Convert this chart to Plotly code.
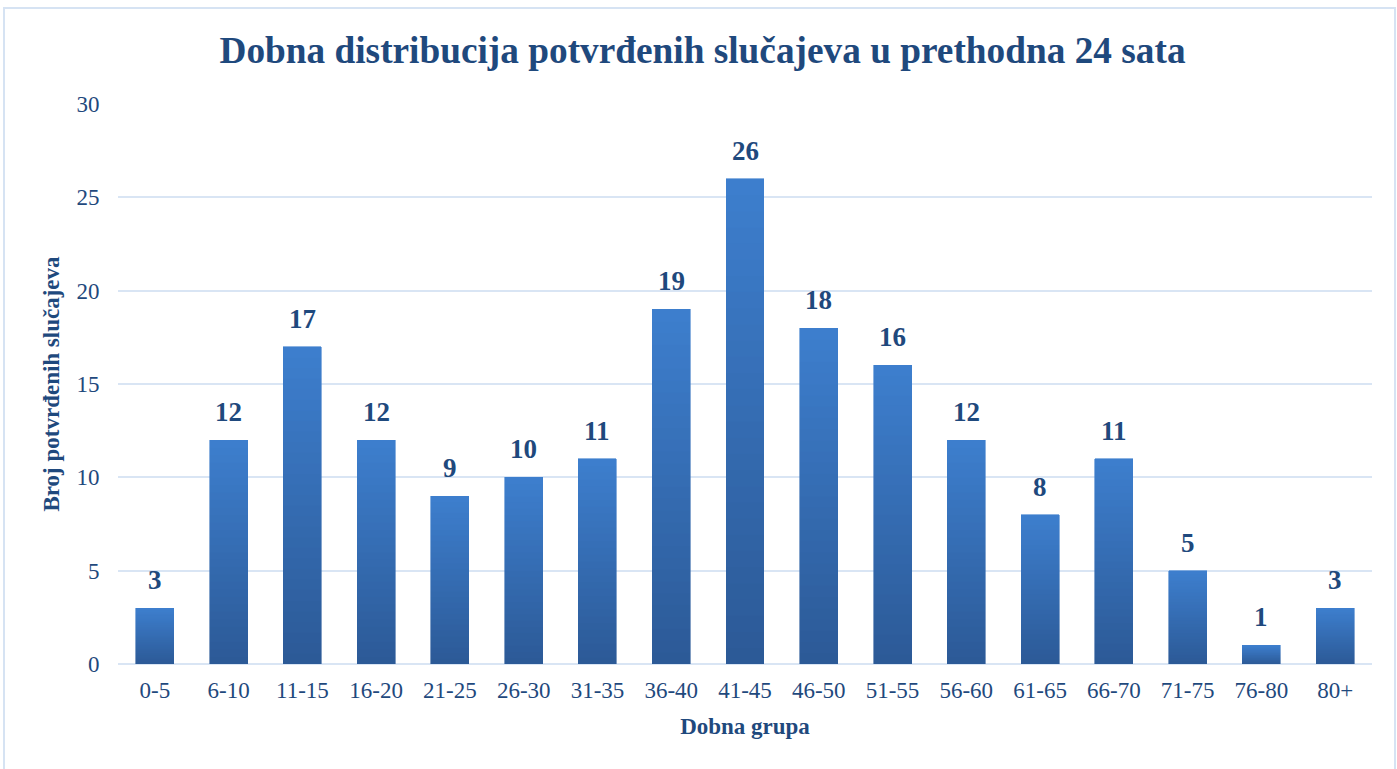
import plotly.graph_objects as go

categories = ["0-5", "6-10", "11-15", "16-20", "21-25", "26-30", "31-35", "36-40", "41-45",
              "46-50", "51-55", "56-60", "61-65", "66-70", "71-75", "76-80", "80+"]
values = [3, 12, 17, 12, 9, 10, 11, 19, 26, 18, 16, 12, 8, 11, 5, 1, 3]
y_ticks = [0, 5, 10, 15, 20, 25, 30]

title_text = "Dobna distribucija potvrđenih slučajeva u prethodna 24 sata"
x_title = "Dobna grupa"
y_title = "Broj potvrđenih slučajeva"

TXT = "#1f497d"
GRID = "#d9e5f4"
FONT = "Liberation Serif, Times New Roman, serif"

W, H = 1397, 769
ML, MR, MT, MB = 118, 25, 104, 105

# vertical gradient approximated by stacked slices of each bar
N = 30
c0 = (0x2c, 0x5a, 0x97)  # bottom
c1 = (0x3d, 0x7e, 0xcd)  # top

fig = go.Figure()
for i in range(N):
    t = i / (N - 1)
    col = "rgb(%d,%d,%d)" % tuple(round(a + (b - a) * t) for a, b in zip(c0, c1))
    fig.add_trace(go.Bar(
        x=categories, y=[v / N for v in values],
        marker=dict(color=col, line=dict(width=0.6, color=col)),
        hoverinfo="skip", showlegend=False,
    ))

for c, v in zip(categories, values):
    fig.add_annotation(x=c, y=v, text="<b>%d</b>" % v, showarrow=False,
                       yanchor="bottom", yshift=11,
                       font=dict(family=FONT, size=27, color=TXT))

pw = W - ML - MR
ph = H - MT - MB
# outer chart border (pixel positions converted to paper fractions)
bx0, bx1, by_top, by_bot = 4, W - 2, 8, H + 5
fig.add_shape(type="rect", xref="paper", yref="paper",
              x0=(bx0 - ML) / pw, x1=(bx1 - ML) / pw,
              y0=(H - MB - by_bot) / ph, y1=(H - MB - by_top) / ph,
              line=dict(color="#d6e3f3", width=2), fillcolor="rgba(0,0,0,0)", layer="below")

fig.update_layout(
    width=W, height=H,
    margin=dict(l=ML, r=MR, t=MT, b=MB),
    barmode="stack", bargap=0.485,
    paper_bgcolor="white", plot_bgcolor="white",
    font=dict(family=FONT, color=TXT),
    title=dict(text="<b>%s</b>" % title_text, x=702.5 / W, xanchor="center",
               y=1 - 50 / H, yanchor="middle", yref="container",
               font=dict(family=FONT, size=37.3, color=TXT)),
    xaxis=dict(
        title=dict(text="<b>%s</b>" % x_title, font=dict(family=FONT, size=23, color=TXT), standoff=16),
        tickfont=dict(family=FONT, size=23, color=TXT),
        ticks="outside", ticklen=5, tickcolor="rgba(0,0,0,0)",
        showline=False, showgrid=False,
    ),
    yaxis=dict(
        title=dict(text="<b>%s</b>" % y_title, font=dict(family=FONT, size=23, color=TXT), standoff=10),
        range=[0, 30], tickvals=y_ticks,
        tickfont=dict(family=FONT, size=23, color=TXT),
        ticks="outside", ticklen=13, tickcolor="rgba(0,0,0,0)",
        showgrid=True, gridcolor=GRID, gridwidth=2,
        zeroline=True, zerolinecolor=GRID, zerolinewidth=2,
        showline=False,
    ),
)

fig.write_html("out.html", config={"displayModeBar": False},
               post_script="document.body.style.margin='0';document.body.style.overflow='hidden';")
